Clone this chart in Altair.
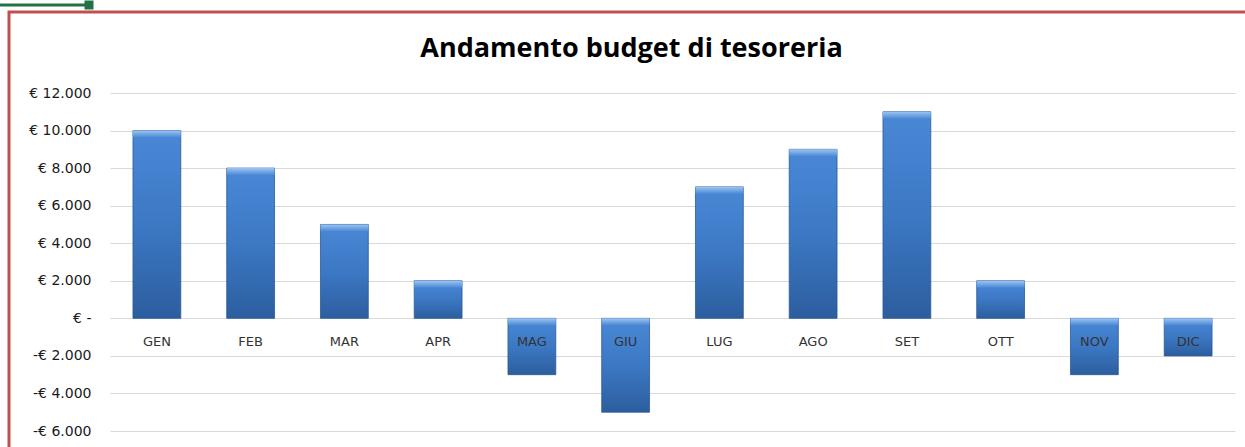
import altair as alt
import pandas as pd

months = ["GEN", "FEB", "MAR", "APR", "MAG", "GIU", "LUG", "AGO", "SET", "OTT", "NOV", "DIC"]
values = [10000, 8000, 5000, 2000, -3000, -5000, 7000, 9000, 11000, 2000, -3000, -2000]
y_ticks = [-6000, -4000, -2000, 0, 2000, 4000, 6000, 8000, 10000, 12000]
title_text = "Andamento budget di tesoreria"

df = pd.DataFrame({"mese": months, "valore": values})
df["top"] = df["valore"].clip(lower=0)
df["zero"] = 0

W, H = 1125, 338
FONT = "DejaVu Sans"

x_enc = alt.X("mese:N", sort=months, axis=None,
              scale=alt.Scale(paddingInner=0.49, paddingOuter=0.245))
y_scale = alt.Scale(domain=[-6000, 12000], nice=False)

label_expr = ("datum.value == 0 ? '€ -' : (datum.value < 0 ? '-€ ' : '€ ') + "
              "format(abs(datum.value) / 1000, '.3f')")

y_axis = alt.Axis(values=y_ticks, labelExpr=label_expr, grid=True,
                  gridColor="#D9D9D9", gridWidth=1, domain=False,
                  ticks=False, labelPadding=19, labelFont=FONT,
                  labelFontSize=14, labelColor="#1a1a1a",
                  labelOverlap=False, labelBound=False, labelFlush=False)

bar_grad = alt.Gradient(
    gradient="linear", x1=0, x2=0, y1=0, y2=1,
    stops=[alt.GradientStop(color="#4A88D6", offset=0),
           alt.GradientStop(color="#3C78C4", offset=0.5),
           alt.GradientStop(color="#2C5E9E", offset=1)])
bevel_grad = alt.Gradient(
    gradient="linear", x1=0, x2=0, y1=0, y2=1,
    stops=[alt.GradientStop(color="#9CC4F2", offset=0),
           alt.GradientStop(color="#4A88D6", offset=1)])

base = alt.Chart(df)

bars = base.mark_bar(fill=bar_grad, stroke="#2A5A94", strokeWidth=0.8).encode(
    x=x_enc,
    y=alt.Y("valore:Q", scale=y_scale, title=None, axis=y_axis),
    y2=alt.datum(0),
)

bevel = base.mark_bar(fill=bevel_grad, y2Offset=7).encode(
    x=x_enc,
    y=alt.Y("top:Q", scale=y_scale, title=None, axis=y_axis),
    y2=alt.Y2("top:Q"),
)

labels = base.mark_text(font=FONT, fontSize=13, color="#333333", dy=24).encode(
    x=x_enc,
    y=alt.Y("zero:Q", scale=y_scale, title=None, axis=y_axis),
    text="mese:N",
)

title = alt.Chart(pd.DataFrame({"t": [title_text]})).mark_text(
    font="Open Sans", fontSize=27, fontWeight="bold", color="#000000", baseline="middle"
).encode(x=alt.value(521.5), y=alt.value(-44), text="t:N")

border = alt.Chart(pd.DataFrame({"a": [0]})).mark_rect(
    filled=False, stroke="#C0504D", strokeWidth=3
).encode(x=alt.value(-101), x2=alt.value(1160), y=alt.value(-81), y2=alt.value(380))

green = alt.Chart(pd.DataFrame({"a": [0]})).mark_rule(
    color="#217346", strokeWidth=3
).encode(x=alt.value(-112), x2=alt.value(-25), y=alt.value(-88))

green_sq = alt.Chart(pd.DataFrame({"a": [0]})).mark_square(
    color="#217346", size=81, opacity=1
).encode(x=alt.value(-21), y=alt.value(-88))

chart = alt.layer(bars, bevel, labels, title, border, green, green_sq).properties(
    width=W, height=H,
    padding={"left": 110, "top": 93, "right": 10, "bottom": 16},
    autosize=alt.AutoSizeParams(type="none"),
    background="white",
).configure_view(stroke=None).configure_axisY(labelOverlap=False)

chart.save("out.html", embed_options={"renderer": "svg", "actions": False})
